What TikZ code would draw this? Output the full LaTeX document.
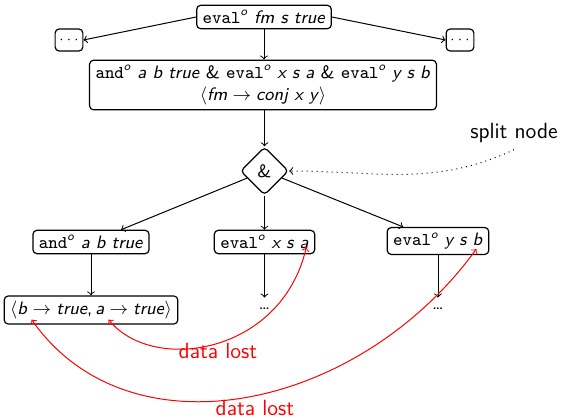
\documentclass[tikz,border=0pt]{standalone}
\usetikzlibrary{shapes.geometric,calc}
\renewcommand{\familydefault}{\sfdefault}
% italic superscript used for the relational suffix
\newcommand{\rel}[1]{\textsuperscript{\itshape #1}}
\newcommand{\nodefont}{\fontsize{9}{11}\selectfont}
\newcommand{\notefont}{\fontsize{11}{13}\selectfont}
\begin{document}
\begin{tikzpicture}[x=0.5pt,y=0.5pt,
  box/.style={draw, rounded corners=2pt, inner xsep=3pt, inner ysep=2.5pt,
    minimum height=11pt, font=\nodefont, line width=0.6pt},
  dotbox/.style={box, inner xsep=2pt, font=\fontsize{7}{8}\selectfont},
  split/.style={draw, diamond, aspect=1, rounded corners=2pt, inner sep=2.6pt,
    font=\nodefont, line width=0.6pt},
  dotn/.style={inner sep=0pt, text height=6pt, text depth=0pt, font=\nodefont},
  arr/.style={->, line width=0.5pt},
  note/.style={font=\notefont, inner sep=3pt},
  lost/.style={<->, red, line width=0.5pt}]
\useasboundingbox (0,0) rectangle (561,417);

% goal and its unfoldings
\node[box] (top) at (264,400) {\texttt{eval}\rel{o} \textit{fm s true}};
\node[dotbox] (dl) at (69,377) {$\cdots$};
\node[dotbox] (dr) at (460,377) {$\cdots$};
\node[box, align=center] (big) at (263,332)
  {\texttt{and}\rel{o} \textit{a b true} \& \texttt{eval}\rel{o} \textit{x s a} \& \texttt{eval}\rel{o} \textit{y s b}\\
   $\langle$\textit{fm}${}\rightarrow{}$\textit{conj x y}$\rangle$};

% split of the conjunction
\node[split] (amp) at (264.5,246) {\&};
\node[note] (splitlbl) at (514,283.5) {split node};

\node[box] (andn) at (91,175) {\texttt{and}\rel{o} \textit{a b true}};
\node[box] (xsa) at (264.5,175) {\texttt{eval}\rel{o} \textit{x s a}};
\node[box] (ysb) at (438,176) {\texttt{eval}\rel{o} \textit{y s b}};

\node[box] (kv) at (91,107)
  {$\langle$\textit{b}${}\rightarrow{}$\textit{true},\,\textit{a}${}\rightarrow{}$\textit{true}$\rangle$};
\node[dotn, anchor=base] (d1) at (264.5,107) {\ldots};
\node[dotn, anchor=base] (d2) at (438,107) {\ldots};

% connectors
\draw[arr] (top.south) -- (top.south |- big.north);
\draw[arr] (top.west) -- (dl.east);
\draw[arr] (top.east) -- (dr.west);
\draw[arr] (amp.north |- big.south) -- (amp.north);
\draw[arr] (amp) -- (andn);
\draw[arr] (amp) -- (xsa);
\draw[arr] (amp) -- (ysb);
\draw[arr] (andn) -- (kv);
\draw[arr] (xsa) -- (d1);
\draw[arr] (ysb) -- (d2);
\draw[->, dotted, line width=0.5pt] (splitlbl.south) to[out=-155, in=0] (amp.east);

% variables whose bindings are lost
\coordinate (cA) at ($(xsa.south east)+(-9,7)$);
\coordinate (cB) at ($(ysb.south east)+(-13,6)$);
\coordinate (kB) at ($(kv.south west)+(28,5)$);
\coordinate (kA) at ($(kv.south west)+(105,5)$);
\draw[lost] (cA) .. controls +(-103:110) and +(-51:70) .. (kA);
\draw[lost] (cB) .. controls +(-126:200) and +(-55:170) .. (kB);
\node[note, text=red] (lost1) at (218,66) {data lost};
\node[note, text=red] (lost2) at (255,9.5) {data lost};
\end{tikzpicture}
\end{document}
